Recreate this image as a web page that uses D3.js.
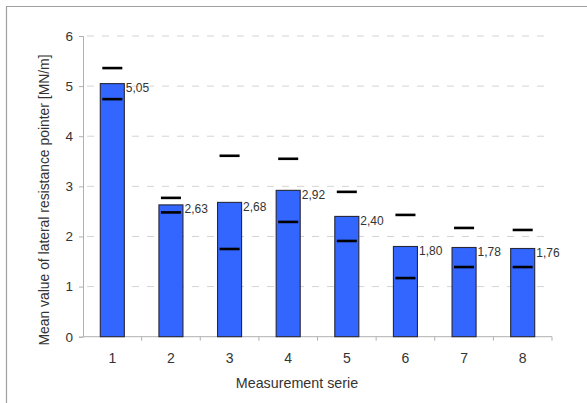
<!DOCTYPE html>
<html>
<head>
<meta charset="utf-8">
<script src="https://cdn.jsdelivr.net/npm/d3@7"></script>
<style>
	body { margin: 0; background: #fff; }
	svg { display: block; font-family: Arial, "Liberation Sans", sans-serif; }
</style>
</head>
<body>
<svg width="587" height="403"></svg>
<script>
var series = ["1", "2", "3", "4", "5", "6", "7", "8"];
var meanValues = [5.05, 2.63, 2.68, 2.92, 2.40, 1.80, 1.78, 1.76];
var upperMarks = [5.36, 2.77, 3.61, 3.55, 2.89, 2.43, 2.17, 2.13];
var lowerMarks = [4.74, 2.48, 1.75, 2.29, 1.91, 1.17, 1.39, 1.39];
var yTicks = [0, 1, 2, 3, 4, 5, 6];

var svg = d3.select("svg");
var plotL = 83, plotR = 552, plotT = 36, plotB = 336.7;

// frame (only top and left edges are visible in the crop)
svg.append("path")
	.attr("d", "M6.5,403 V6.5 H587")
	.attr("fill", "none")
	.attr("stroke", "#a0a0a0")
	.attr("stroke-width", 1.2);

var x = d3.scaleBand().domain(series).range([plotL, plotR]).paddingInner(0.59).paddingOuter(0.295);
var xb = d3.scaleBand().domain(series).range([plotL, plotR]);
var y = d3.scaleLinear().domain([0, 6]).range([plotB, plotT]);

// grid
svg.append("g")
	.selectAll("line")
	.data(yTicks.slice(1))
	.enter()
	.append("line")
	.attr("x1", plotL + 4)
	.attr("x2", plotR)
	.attr("y1", d => y(d))
	.attr("y2", d => y(d))
	.attr("stroke", "#d4d4d4")
	.attr("stroke-width", 1)
	.attr("stroke-dasharray", "7,8");

// y axis
var yAxis = svg.append("g")
	.attr("transform", `translate(${plotL},0)`)
	.call(d3.axisLeft(y).tickValues(yTicks).tickSize(4).tickPadding(6).tickFormat(d3.format("d")));
yAxis.select(".domain").attr("stroke", "#b0b0b0");
yAxis.selectAll(".tick line").attr("stroke", "#b0b0b0");
yAxis.selectAll("text").attr("font-size", 13.5).attr("fill", "#333").attr("font-family", "Arial, 'Liberation Sans', sans-serif");

// x axis: ticks at band edges
var xAxis = svg.append("g")
	.attr("transform", `translate(0,${plotB})`)
	.call(d3.axisBottom(x).tickSize(0).tickPadding(16));
xAxis.select(".domain").attr("d", `M${plotL},0H${plotR}`).attr("stroke", "#b0b0b0");
xAxis.selectAll("text").attr("font-size", 14).attr("fill", "#333").attr("font-family", "Arial, 'Liberation Sans', sans-serif");
svg.append("g")
	.selectAll("line")
	.data(series.slice(1).concat(["end"]))
	.enter()
	.append("line")
	.attr("x1", d => d == "end" ? plotR : xb(d))
	.attr("x2", d => d == "end" ? plotR : xb(d))
	.attr("y1", plotB)
	.attr("y2", plotB + 4)
	.attr("stroke", "#b0b0b0");

// bars
svg.append("g")
	.selectAll("rect")
	.data(meanValues)
	.enter()
	.append("rect")
	.attr("x", (d, i) => x(series[i]))
	.attr("y", d => y(d))
	.attr("width", x.bandwidth())
	.attr("height", d => plotB - y(d))
	.attr("fill", "#3366ff")
	.attr("stroke", "#26283a")
	.attr("stroke-width", 1.1);

// markers
function marks(data) {
	svg.append("g")
		.selectAll("line")
		.data(data)
		.enter()
		.append("line")
		.attr("x1", (d, i) => x(series[i]) + 2)
		.attr("x2", (d, i) => x(series[i]) + x.bandwidth() - 2)
		.attr("y1", d => y(d))
		.attr("y2", d => y(d))
		.attr("stroke", "#000")
		.attr("stroke-width", 2.6);
}
marks(upperMarks);
marks(lowerMarks);

// value labels
svg.append("g")
	.selectAll("text")
	.data(meanValues)
	.enter()
	.append("text")
	.attr("x", (d, i) => x(series[i]) + x.bandwidth() + 1.5)
	.attr("y", d => y(d) + 8.5)
	.attr("font-size", 12)
	.attr("fill", "#333")
	.text(d => d.toFixed(2).replace(".", ","));

// titles
svg.append("text")
	.attr("x", 297)
	.attr("y", 388)
	.attr("text-anchor", "middle")
	.attr("font-size", 14.3)
	.attr("fill", "#333")
	.text("Measurement serie");

svg.append("text")
	.attr("transform", "translate(49,200) rotate(-90)")
	.attr("text-anchor", "middle")
	.attr("font-size", 13.9)
	.attr("fill", "#333")
	.text("Mean value of lateral resistance pointer [MN/m]");
</script>
</body>
</html>
